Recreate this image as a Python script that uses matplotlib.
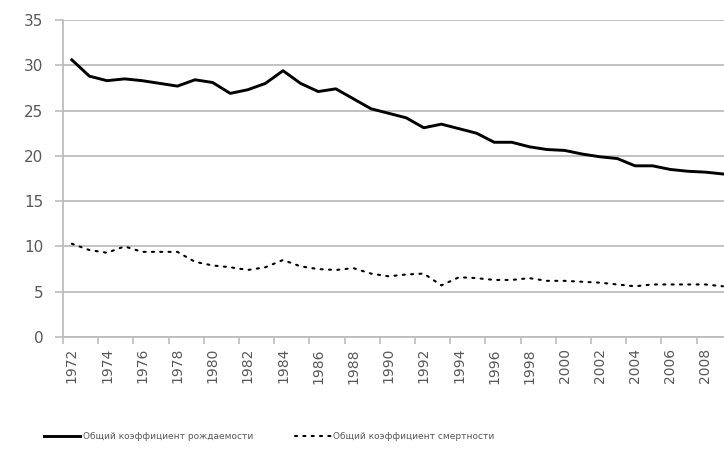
import numpy as np
import matplotlib.pyplot as plt

# yearly values
years = list(range(1972, 2010))
birth_rate = [30.6, 28.8, 28.3, 28.5, 28.3, 28.0, 27.7, 28.4, 28.1, 26.9,
              27.3, 28.0, 29.4, 28.0, 27.1, 27.4, 26.3, 25.2, 24.7, 24.2,
              23.1, 23.5, 23.0, 22.5, 21.5, 21.5, 21.0, 20.7, 20.6, 20.2,
              19.9, 19.7, 18.9, 18.9, 18.5, 18.3, 18.2, 18.0]
death_rate = [10.3, 9.6, 9.3, 10.0, 9.4, 9.4, 9.4, 8.3, 7.9, 7.7,
              7.4, 7.7, 8.5, 7.8, 7.5, 7.4, 7.6, 7.0, 6.7, 6.9,
              7.0, 5.7, 6.6, 6.5, 6.3, 6.3, 6.5, 6.2, 6.2, 6.1,
              6.0, 5.8, 5.6, 5.8, 5.8, 5.8, 5.8, 5.6]
label_birth = 'Общий коэффициент рождаемости'
label_death = 'Общий коэффициент смертности'

text_color = '#595959'
grid_color = '#bdbdbd'

fig = plt.figure(figsize=(7.24, 4.49), dpi=100)
ax = fig.add_axes([63 / 724, 112 / 449, 668.8 / 724, 317 / 449])

x = np.arange(len(years))
ax.plot(x, birth_rate, color='black', lw=2.1, solid_joinstyle='round', label=label_birth)
ax.plot(x, death_rate, color='black', lw=1.5, linestyle=(0, (1, 3)),
        dash_capstyle='round', label=label_death)

ax.set_xlim(-0.5, len(years) - 0.5)
ax.set_ylim(0, 35)
ax.set_yticks(range(0, 36, 5))
ax.yaxis.grid(True, color=grid_color, lw=1.3)
ax.set_axisbelow(True)

# category axis: tick marks between categories, labels on every second year
ax.set_xticks(np.arange(-0.5, len(years), 2))
ax.set_xticklabels([])
ax.set_xticks(x[::2], minor=True)
ax.set_xticklabels([str(y) for y in years[::2]], minor=True, rotation=90)
ax.tick_params(axis='x', which='major', length=5, color=grid_color, width=1.2)
ax.tick_params(axis='x', which='minor', length=0, pad=8, labelsize=10, labelcolor=text_color)
ax.tick_params(axis='y', length=6, color=grid_color, width=1.2, pad=8,
               labelsize=11, labelcolor=text_color)

for side in ['top', 'right']:
    ax.spines[side].set_visible(False)
for side in ['left', 'bottom']:
    ax.spines[side].set_color(grid_color)
    ax.spines[side].set_linewidth(1.3)

fig.legend(loc='center', bbox_to_anchor=(0.372, 0.027), ncol=2, frameon=False,
           fontsize=6.5, labelcolor=text_color, handlelength=4.0,
           handletextpad=0.3, columnspacing=4.6)

plt.savefig('out.png', dpi=100)
plt.close()
